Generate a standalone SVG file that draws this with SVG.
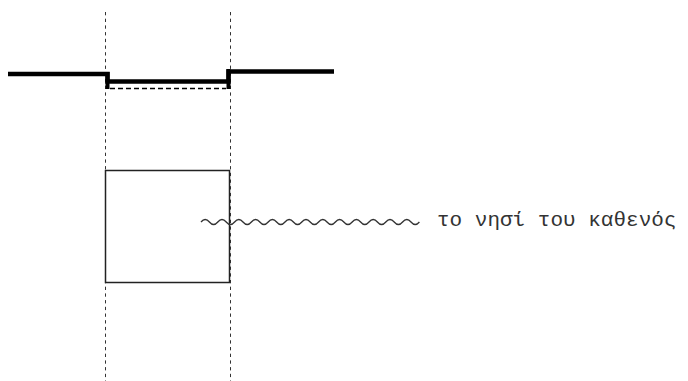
<svg xmlns="http://www.w3.org/2000/svg" width="688" height="381" viewBox="0 0 688 381">
<style>
.guide{stroke:#333;stroke-width:1;stroke-dasharray:3.3,3.4;fill:none}
.thick{stroke:#000;stroke-width:4.5;fill:none;stroke-linejoin:miter}
.lbl{font-family:"Liberation Mono","DejaVu Sans Mono",monospace;font-size:21px;fill:#333}
</style>
<rect width="688" height="381" fill="#fff"/>
<g id="guides">
<line class="guide" x1="105.5" y1="12" x2="105.5" y2="381"/>
<line class="guide" x1="230.5" y1="12" x2="230.5" y2="381"/>
</g>
<g id="profile">
<polyline class="thick" points="8,74 107.5,74 107.5,81.5 228.5,81.5 228.5,71.5 334,71.5"/>
<line x1="107.5" y1="72" x2="107.5" y2="89" stroke="#000" stroke-width="4"/>
<line x1="228.5" y1="69" x2="228.5" y2="89" stroke="#000" stroke-width="4"/>
<line x1="110" y1="88.5" x2="226" y2="88.5" stroke="#000" stroke-width="1.5" stroke-dasharray="5,3"/>
</g>
<g id="island">
<rect x="105.5" y="170.5" width="124" height="112" fill="none" stroke="#222" stroke-width="1.5"/>
</g>
<g id="connectors">
<path d="M201,222 q4.2,-5 8.4,0 t8.4,0 t8.4,0 t8.4,0 t8.4,0 t8.4,0 t8.4,0 t8.4,0 t8.4,0 t8.4,0 t8.4,0 t8.4,0 t8.4,0 t8.4,0 t8.4,0 t8.4,0 t8.4,0 t8.4,0 t8.4,0 t8.4,0 t8.4,0 t8.4,0 t8.4,0 t8.4,0 t8.4,0 t8.4,0" fill="none" stroke="#333" stroke-width="1.3"/>
</g>
<g id="label">
<text class="lbl" x="437" y="226">το νησί του καθενός</text>
</g>
</svg>
